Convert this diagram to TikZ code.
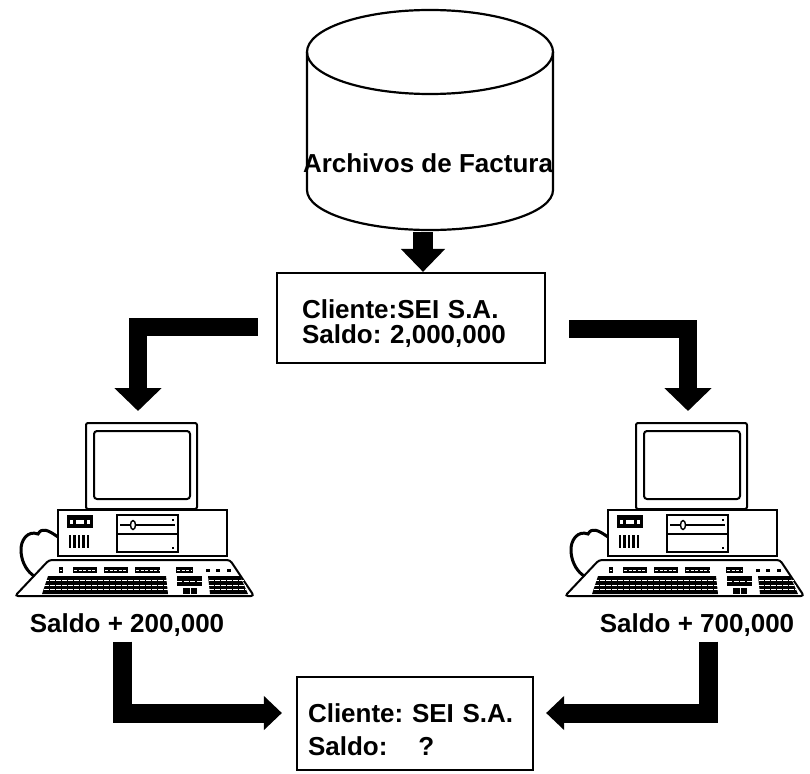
\documentclass[tikz,border=0pt]{standalone}
\usepackage{fontspec}
\setmainfont{Liberation Sans}
\usetikzlibrary{arrows.meta,positioning}
\frenchspacing

\tikzset{
  texto/.style={font=\fontsize{26}{25}\selectfont\bfseries, inner sep=0pt},
  caja/.style={draw, line width=2.2pt, texto, align=left},
  flecha/.style={line width=#1, line join=miter},
  pics/computadora/.style={code={
    % monitor
    \draw[line width=2pt, rounded corners=2pt] (86,-423) rectangle (197,-509);
    \draw[line width=2pt, rounded corners=3pt] (94,-431) rectangle (190,-499);
    % caja del equipo
    \draw[line width=2pt] (58,-510) rectangle (227,-556);
    \draw[line width=2pt, fill=black] (68,-516) rectangle (92,-527);
    \fill[white] (70,-520) rectangle (90,-524);
    \fill (73,-519) rectangle (76,-525);
    \fill (84,-519) rectangle (87,-525);
    \foreach \x in {70,74.5,79,83.5,88}
      \draw[line width=2.2pt] (\x,-535) -- (\x,-548);
    \draw[line width=2pt] (117,-515) rectangle (178,-552) (117,-534) -- (178,-534);
    \draw[line width=1.4pt] (120,-525) -- (175,-525);
    \draw[line width=1.4pt, fill=white] (133,-525) ellipse (2.5 and 4.5);
    \fill (172,-519) rectangle (174,-521);
    \fill (172,-547) rectangle (174,-549);
    % cable
    \draw[line width=3pt] (58,-537) .. controls (48,-530) and (42,-527) .. (38,-534)
      .. controls (28,-530) and (20,-540) .. (21,-552)
      .. controls (22,-564) and (28,-572) .. (34,-576);
    % teclado
    \draw[line width=2pt, rounded corners=3pt] (49,-560) -- (230,-560) -- (254,-596) -- (15,-596) -- cycle;
    \foreach \a/\b in {59/63,73/97,104/128,135/160,176/193}{
      \fill (\a,-567) rectangle (\b,-573);
      \draw[white, line width=0.8pt, dash pattern=on 3pt off 1.5pt] (\a+1,-570) -- (\b-1,-570);
    }
    \foreach \a in {206,216,227}
      \fill (\a,-569) rectangle (\a+4,-572);
    \fill (48,-576) -- (166,-576) -- (168,-594) -- (42,-594) -- cycle;
    \fill (177,-576) rectangle (202,-586);
    \fill (183,-588) rectangle (197,-594);
    \fill (208,-576) -- (240,-576) -- (248,-594) -- (210,-594) -- cycle;
    \foreach \y in {-580.5,-585,-589.5}{
      \draw[white, line width=1pt, dash pattern=on 4.5pt off 1.5pt] (44,\y) -- (168,\y);
      \draw[white, line width=1pt, dash pattern=on 4.5pt off 1.5pt] (209,\y) -- (246,\y);
    }
    \draw[white, line width=1pt, dash pattern=on 5pt off 1.5pt] (177,-581) -- (202,-581);
    \draw[white, line width=1pt] (190,-588) -- (190,-594);
    \coordinate (-tip) at (138,-411);
  }}
}

\begin{document}
\begin{tikzpicture}[x=1pt,y=1pt]
\useasboundingbox (0,0) rectangle (810,-773);

% archivo de facturas
\draw[line width=2.2pt] (430,-52) ellipse (123 and 42);
\draw[line width=2.2pt] (307,-52) -- (307,-190) arc (180:360:123 and 40) -- (553,-52);
\node[texto] (archivo) at (428,-163) {Archivos de Factura};
\coordinate (cylbase) at (423,-232);

\node[caja, minimum width=268pt, minimum height=90pt, text width=218pt, inner xsep=25pt]
  (saldo) at (411,-318) {\rule{0pt}{31pt}Cliente:SEI S.A.\\Saldo: 2,000,000};

\pic (pcA) at (0,0) {computadora};
\pic (pcB) at (550,0) {computadora};

\node[texto] (saldoA) at (127,-625) {Saldo + 200,000};
\node[texto] (saldoB) at (697,-625) {Saldo + 700,000};

\node[caja, minimum width=236pt, minimum height=93pt, text width=214pt, inner xsep=11pt]
  (final) at (415,-723.5) {\rule{0pt}{31pt}Cliente: SEI S.A.\\[8pt]Saldo:\hspace{31pt}?};

% flechas
\draw[flecha=20pt, -{Triangle[width=43pt,length=23pt]}] (cylbase) -- (saldo.north -| cylbase);
\draw[flecha=18pt, -{Triangle[width=46pt,length=23pt]}] ([xshift=-18pt,yshift=-9pt]saldo.west) -| (pcA-tip);
\draw[flecha=18pt, -{Triangle[width=46pt,length=23pt]}] ([xshift=23pt,yshift=-11pt]saldo.east) -| (pcB-tip);
\draw[flecha=19pt, -{Triangle[width=33pt,length=18pt]}] ([xshift=-5pt,yshift=-5pt]saldoA.south) |- ([xshift=-14pt,yshift=10.5pt]final.west);
\draw[flecha=19pt, -{Triangle[width=33pt,length=18pt]}] ([xshift=11pt,yshift=-5pt]saldoB.south) |- ([xshift=12pt,yshift=10.5pt]final.east);
\end{tikzpicture}
\end{document}
